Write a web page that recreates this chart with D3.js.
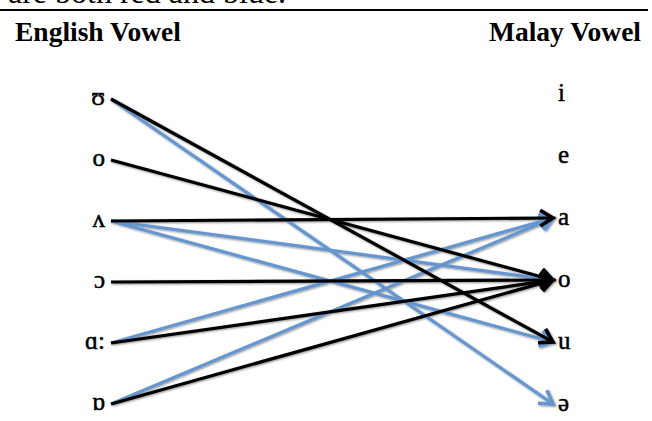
<!DOCTYPE html>
<html><head><meta charset="utf-8">
<script src="https://cdn.jsdelivr.net/npm/d3@7"></script>
<style>body{margin:0;background:#fff}svg{display:block}</style>
</head><body>
<svg id="c" width="652" height="421"></svg>
<script>
const englishVowels = ["ʊ","o","ʌ","ɔ","ɑ:","ɒ"];
const malayVowels = ["i","e","a","o","u","ə"];
// links: source English index -> target Malay index, type
const linkSource = [2, 2, 4, 5, 0, 0, 1, 2, 3, 4, 5];
const linkTarget = [3, 4, 2, 2, 5, 4, 3, 2, 3, 3, 3];
const linkType   = ["blue","blue","blue","blue","blue","black","black","black","black","black","black"];

const colors = {black:"#000000", blue:"#6596cf"};
const svg = d3.select("#c");

const defs = svg.append("defs");
const f = defs.append("filter").attr("id","sh").attr("x","-20%").attr("y","-20%").attr("width","140%").attr("height","140%");
f.append("feGaussianBlur").attr("in","SourceAlpha").attr("stdDeviation",1.2).attr("result","b");
f.append("feOffset").attr("in","b").attr("dx",0.8).attr("dy",1.2).attr("result","o");
f.append("feComponentTransfer").attr("in","o").attr("result","o2").append("feFuncA").attr("type","linear").attr("slope",0.45);
const m = f.append("feMerge"); m.append("feMergeNode").attr("in","o2"); m.append("feMergeNode").attr("in","SourceGraphic");

// top residual text and rule
svg.append("text").attr("x",8).attr("y",3).attr("font-family","Liberation Serif").attr("font-size",32).attr("fill","#000").text("are both red and blue.");
svg.append("line").attr("x1",0).attr("x2",648).attr("y1",10).attr("y2",10).attr("stroke","#000").attr("stroke-width",2);

svg.append("text").attr("x",15).attr("y",41).attr("font-family","Liberation Serif").attr("font-weight","bold").attr("font-size",27.5).attr("fill","#000").text("English Vowel");
svg.append("text").attr("x",641).attr("y",41).attr("text-anchor","end").attr("font-family","Liberation Serif").attr("font-weight","bold").attr("font-size",27.5).attr("fill","#000").text("Malay Vowel");

const yL = d3.scalePoint().domain(d3.range(englishVowels.length)).range([99, 404]);
const yR = d3.scalePoint().domain(d3.range(malayVowels.length)).range([94, 404]);
const xStart = 111, xEnd = 553;

svg.selectAll("text.lv").data(englishVowels).join("text").attr("class","lv")
  .attr("x",105).attr("y",(d,i)=>yL(i)+6).attr("text-anchor","end")
  .attr("font-family","Liberation Serif").attr("font-size",25).attr("stroke","#000").attr("stroke-width",0.5).attr("fill","#000").text(d=>d);
svg.selectAll("text.rv").data(malayVowels).join("text").attr("class","rv")
  .attr("x",558).attr("y",(d,i)=>yR(i)+7)
  .attr("font-family","Liberation Serif").attr("font-size",25).attr("stroke","#000").attr("stroke-width",0.5).attr("fill","#000").text(d=>d);

const links = linkSource.map((s,i)=>({s, t:linkTarget[i], type:linkType[i]}));
const g = svg.append("g").attr("filter","url(#sh)");
links.forEach(l=>{
  const x1 = xStart, y1 = yL(l.s), x2 = xEnd, y2 = yR(l.t);
  const c = colors[l.type];
  g.append("line").attr("x1",x1).attr("y1",y1).attr("x2",x2).attr("y2",y2)
    .attr("stroke",c).attr("stroke-width",3.2);
  const ang = Math.atan2(y2-y1, x2-x1), len = 15, spread = 0.55;
  const p = [[x2 - len*Math.cos(ang-spread), y2 - len*Math.sin(ang-spread)],[x2,y2],[x2 - len*Math.cos(ang+spread), y2 - len*Math.sin(ang+spread)]];
  g.append("path").attr("d", d3.line()(p)).attr("fill","none").attr("stroke",c)
    .attr("stroke-width",3.6).attr("stroke-linejoin","miter").attr("stroke-linecap","butt");
});
</script>
</body></html>
